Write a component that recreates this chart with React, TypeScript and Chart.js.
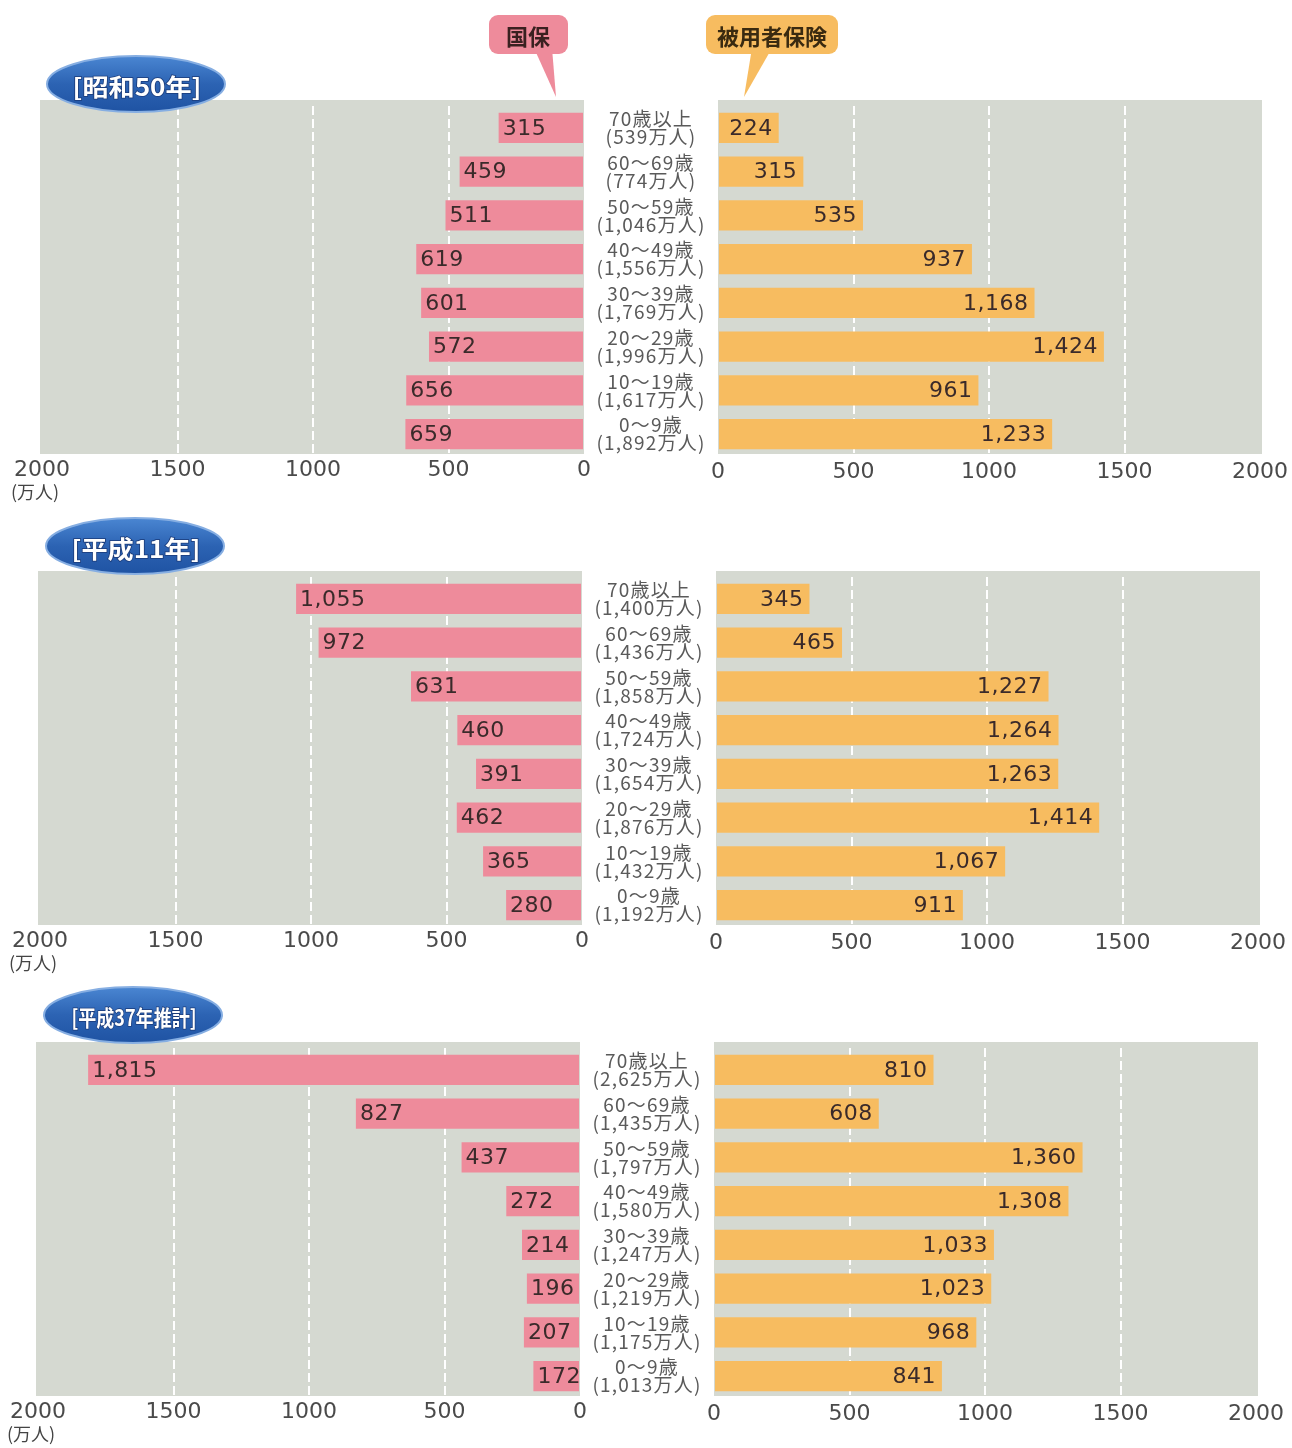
import React, { useEffect, useRef } from "react";
import { Chart, registerables } from "chart.js";

Chart.register(...registerables);

// ---- data ----
const ageGroups = ["70歳以上", "60～69歳", "50～59歳", "40～49歳", "30～39歳", "20～29歳", "10～19歳", "0～9歳"];
const xTickValues = [0, 500, 1000, 1500, 2000];
const panelTitles = ["[昭和50年]", "[平成11年]", "[平成37年推計]"];
const seriesNames = ["国保", "被用者保険"];

const kokuhoS50 = [315, 459, 511, 619, 601, 572, 656, 659];
const hiyoushaS50 = [224, 315, 535, 937, 1168, 1424, 961, 1233];
const totalS50 = [539, 774, 1046, 1556, 1769, 1996, 1617, 1892];

const kokuhoH11 = [1055, 972, 631, 460, 391, 462, 365, 280];
const hiyoushaH11 = [345, 465, 1227, 1264, 1263, 1414, 1067, 911];
const totalH11 = [1400, 1436, 1858, 1724, 1654, 1876, 1432, 1192];

const kokuhoH37 = [1815, 827, 437, 272, 214, 196, 207, 172];
const hiyoushaH37 = [810, 608, 1360, 1308, 1033, 1023, 968, 841];
const totalH37 = [2625, 1435, 1797, 1580, 1247, 1219, 1175, 1013];

const PINK = "#ee8b9b";
const ORANGE = "#f7bc60";
const BG = "#d5d9d1";
const VALUE_COLOR = "#3a2a2a";

const fmt = (n: number) => n.toLocaleString("en-US");

function makeXScale(reverse: boolean, padding: number) {
  return {
    type: "linear" as const,
    min: 0,
    max: 2000,
    reverse,
    afterBuildTicks: (axis: any) => {
      axis.ticks = xTickValues.map((v) => ({ value: v }));
    },
    afterFit: (axis: any) => {
      axis.height = 40;
    },
    ticks: {
      autoSkip: false,
      maxRotation: 0,
      padding,
      color: "#4a4a4a",
      font: { family: "DejaVu Sans", size: 22 },
      callback: (v: any) => String(v),
    },
    grid: {
      drawTicks: false,
      lineWidth: 2,
      color: (ctx: any) =>
        ctx.tick && ctx.tick.value > 0 && ctx.tick.value < 2000 ? "#ffffff" : "rgba(0,0,0,0)",
    },
    border: { display: false, dash: [9, 4] },
  };
}

function bgPlugin(extendLeft: number, extendRight: number) {
  return {
    id: "bg",
    beforeDraw(chart: any) {
      const { ctx, chartArea } = chart;
      ctx.save();
      ctx.fillStyle = BG;
      ctx.fillRect(
        chartArea.left - extendLeft,
        chartArea.top - 6,
        chartArea.right - chartArea.left + extendLeft + extendRight,
        chartArea.bottom - chartArea.top + 4
      );
      ctx.restore();
    },
  };
}

function valueLabelPlugin(side: "left" | "right", values: number[]) {
  return {
    id: "valueLabels",
    afterDatasetsDraw(chart: any) {
      const { ctx } = chart;
      const meta = chart.getDatasetMeta(0);
      ctx.save();
      ctx.font = '22px "DejaVu Sans"';
      (ctx as any).letterSpacing = "0.5px";
      ctx.fillStyle = VALUE_COLOR;
      ctx.textBaseline = "middle";
      meta.data.forEach((bar: any, i: number) => {
        const { x, y } = bar.getProps(["x", "y"], true);
        const text = fmt(values[i]);
        if (side === "left") {
          ctx.textAlign = "left";
          ctx.fillText(text, x + 4, y + 1);
        } else {
          ctx.textAlign = "right";
          ctx.fillText(text, x - 6, y + 1);
        }
      });
      ctx.restore();
    },
  };
}

function centerLabelPlugin(totals: number[]) {
  return {
    id: "centerLabels",
    afterDraw(chart: any) {
      const { ctx, chartArea } = chart;
      const yScale = chart.scales.y;
      const cx = chartArea.right + 67;
      ctx.save();
      ctx.font = '19px "Noto Sans CJK JP"';
      (ctx as any).letterSpacing = "1.2px";
      ctx.fillStyle = "#5a5a5a";
      ctx.textAlign = "center";
      ctx.textBaseline = "middle";
      ageGroups.forEach((g, i) => {
        const y = yScale.getPixelForValue(i);
        ctx.fillText(g, cx, y - 9);
        ctx.fillText(`(${fmt(totals[i])}万人)`, cx, y + 9);
      });
      ctx.restore();
    },
  };
}

function Panel({
  index,
  kokuho,
  hiyousha,
  totals,
}: {
  index: number;
  kokuho: number[];
  hiyousha: number[];
  totals: number[];
}) {
  const leftRef = useRef<HTMLCanvasElement>(null);
  const rightRef = useRef<HTMLCanvasElement>(null);
  const s = -2 * index;
  const areaTop = 106 + 471 * index;
  const canvasTop = areaTop - 10;
  const canvasH = 400;
  const leftW = 718 + s;
  const rightLeft = 698 + s;
  const rightW = 1292 - rightLeft;

  useEffect(() => {
    const common = {
      indexAxis: "y" as const,
      responsive: false,
      animation: false as const,
      plugins: { legend: { display: false }, tooltip: { enabled: false } },
    };
    const left = new Chart(leftRef.current!, {
      type: "bar",
      data: {
        labels: ageGroups,
        datasets: [
          {
            label: seriesNames[0],
            data: kokuho,
            backgroundColor: PINK,
            borderWidth: 0,
            barPercentage: 0.69,
            categoryPercentage: 1,
          },
        ],
      },
      options: {
        ...common,
        layout: { padding: { top: 10, bottom: 0, left: 42 + s, right: 134 } },
        scales: {
          x: makeXScale(true, 1) as any,
          y: { type: "category", display: false, offset: true },
        },
      },
      plugins: [bgPlugin(2, 0), valueLabelPlugin("left", kokuho), centerLabelPlugin(totals)],
    });
    const right = new Chart(rightRef.current!, {
      type: "bar",
      data: {
        labels: ageGroups,
        datasets: [
          {
            label: seriesNames[1],
            data: hiyousha,
            backgroundColor: ORANGE,
            borderWidth: 0,
            barPercentage: 0.69,
            categoryPercentage: 1,
          },
        ],
      },
      options: {
        ...common,
        layout: { padding: { top: 10, bottom: 0, left: 20, right: 32 - s } },
        scales: {
          x: makeXScale(false, 3) as any,
          y: { type: "category", display: false, offset: true },
        },
      },
      plugins: [bgPlugin(0, 2), valueLabelPlugin("right", hiyousha)],
    });
    return () => {
      left.destroy();
      right.destroy();
    };
  }, []);

  return (
    <>
      <canvas
        ref={leftRef}
        width={leftW}
        height={canvasH}
        style={{ position: "absolute", left: 0, top: canvasTop, width: leftW, height: canvasH }}
      />
      <canvas
        ref={rightRef}
        width={rightW}
        height={canvasH}
        style={{ position: "absolute", left: rightLeft, top: canvasTop, width: rightW, height: canvasH }}
      />
      <div
        style={{
          position: "absolute",
          left: 11 + s,
          top: areaTop + 373,
          font: '18px "Noto Sans CJK JP"',
          color: "#444",
          lineHeight: "24px",
          whiteSpace: "nowrap",
        }}
      >
        (万人)
      </div>
    </>
  );
}

const ellipses = [
  { cx: 136, cy: 84, rx: 89, ry: 28, len: 129, size: 24 },
  { cx: 135, cy: 546, rx: 89, ry: 28, len: 129, size: 24 },
  { cx: 133, cy: 1015, rx: 89, ry: 28, len: 125, size: 22 },
];

function Overlay() {
  return (
    <svg
      width={1292}
      height={1448}
      style={{ position: "absolute", left: 0, top: 0, pointerEvents: "none" }}
    >
      <defs>
        <linearGradient id="blueG" x1="0" y1="0" x2="0" y2="1">
          <stop offset="0" stopColor="#4a86d2" />
          <stop offset="0.5" stopColor="#2c63b3" />
          <stop offset="1" stopColor="#1f53a3" />
        </linearGradient>
      </defs>
      {/* 国保 callout */}
      <polygon points="534,48 552,48 556,97" fill={PINK} />
      <rect x={489} y={15} width={79} height={39} rx={9} fill={PINK} />
      <text
        x={528}
        y={35}
        textAnchor="middle"
        dominantBaseline="central"
        fontFamily='"Noto Sans CJK JP"'
        fontWeight="bold"
        fontSize={22}
        fill="#3a2020"
      >
        {seriesNames[0]}
      </text>
      {/* 被用者保険 callout */}
      <polygon points="752,48 772,48 744,97" fill={ORANGE} />
      <rect x={706} y={15} width={132} height={39} rx={9} fill={ORANGE} />
      <text
        x={772}
        y={35}
        textAnchor="middle"
        dominantBaseline="central"
        fontFamily='"Noto Sans CJK JP"'
        fontWeight="bold"
        fontSize={22}
        fill="#3a2a10"
      >
        {seriesNames[1]}
      </text>
      {ellipses.map((e, i) => (
        <g key={i}>
          <ellipse cx={e.cx} cy={e.cy} rx={e.rx} ry={e.ry} fill="url(#blueG)" stroke="#86aee2" strokeWidth={2} />
          <text
            x={e.cx + 1}
            y={e.cy + 1}
            textAnchor="middle"
            dominantBaseline="central"
            fontFamily='"Noto Sans CJK JP"'
            fontWeight="bold"
            fontSize={e.size}
            textLength={e.len}
            lengthAdjust="spacingAndGlyphs"
            fill="#ffffff"
            stroke="#1a3a78"
            strokeWidth={1.5}
            paintOrder="stroke"
          >
            {panelTitles[i]}
          </text>
        </g>
      ))}
    </svg>
  );
}

export default function App() {
  return (
    <div
      style={{
        position: "absolute",
        left: 0,
        top: 0,
        width: 1292,
        height: 1448,
        overflow: "hidden",
        background: "#ffffff",
      }}
    >
      <Panel index={0} kokuho={kokuhoS50} hiyousha={hiyoushaS50} totals={totalS50} />
      <Panel index={1} kokuho={kokuhoH11} hiyousha={hiyoushaH11} totals={totalH11} />
      <Panel index={2} kokuho={kokuhoH37} hiyousha={hiyoushaH37} totals={totalH37} />
      <Overlay />
    </div>
  );
}
